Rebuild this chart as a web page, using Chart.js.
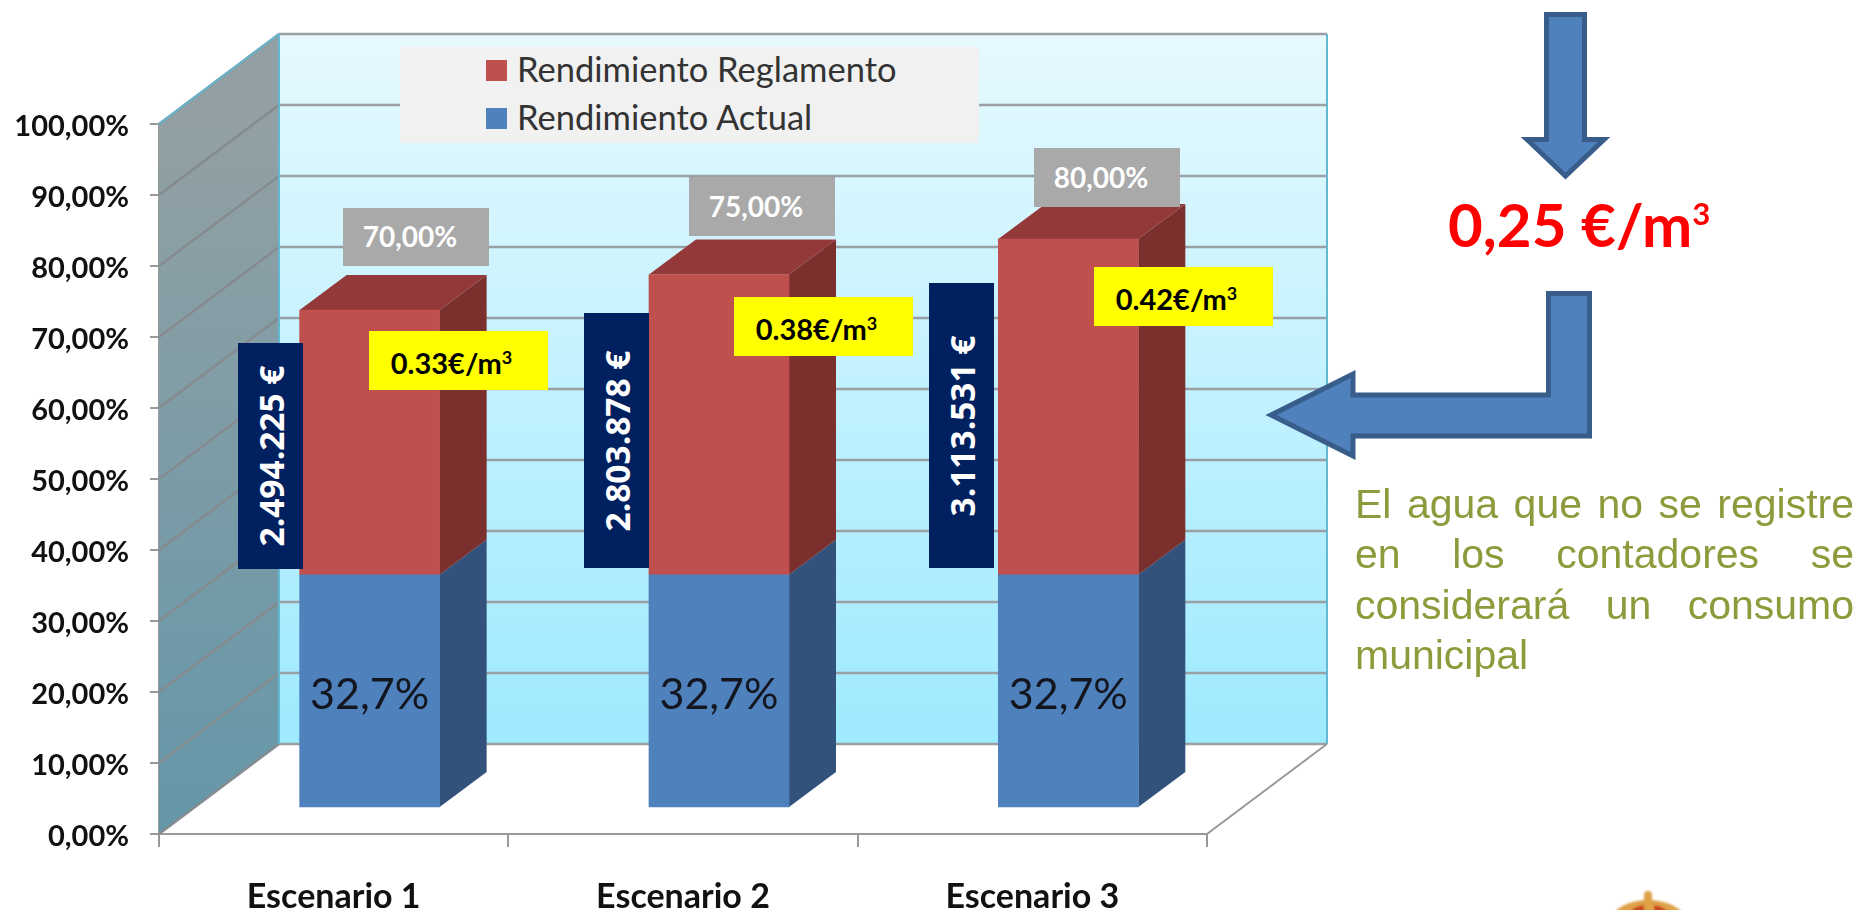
<!DOCTYPE html>
<html>
<head>
<meta charset="utf-8">
<title>Rendimiento</title>
<script src="https://cdn.jsdelivr.net/npm/chart.js@4"></script>
<style>
html, body { margin: 0; padding: 0; background: #fff; }
#wrap { position: relative; width: 1872px; height: 910px; overflow: hidden; }
#chart { position: absolute; left: 0; top: 0; }
.box { position: absolute; display: flex; align-items: center; justify-content: center; font-family: Lato, sans-serif; font-weight: 700; box-sizing: border-box; }
.box sup { font-size: 0.62em; line-height: 0; vertical-align: 0.55em; }
.gris { background: #a9a9a9; color: #fff; font-size: 28px; padding: 0 12px 2px 0; }
.amarillo { background: #ffff00; color: #000; font-size: 29px; padding: 4px 14px 0 0; }
.navy { background: #002060; color: #fff; font-family: "Open Sans", sans-serif; font-size: 33.5px; }
.navy span { transform: rotate(-90deg); white-space: nowrap; }
#legend { position: absolute; left: 400px; top: 47px; width: 579px; height: 96px; background: #f1f1f1; font-family: Lato, sans-serif; font-size: 34.5px; color: #333; }
#legend div { position: absolute; white-space: nowrap; line-height: 34px; }
#legend i { position: absolute; left: -31px; top: 8px; width: 21px; height: 21px; }
#precio { position: absolute; left: 1448px; top: 188px; font-family: Lato, sans-serif; font-weight: 700; font-size: 60px; color: #ff0000; white-space: nowrap; }
#precio sup { font-size: 0.52em; line-height: 0; vertical-align: 0.7em; }
#nota { position: absolute; left: 1355px; top: 479px; width: 499px; font-family: "Liberation Sans", sans-serif; font-size: 41px; line-height: 50.3px; color: #8e9a3b; text-align: justify; }
svg { position: absolute; left: 0; top: 0; }
</style>
</head>
<body>
<div id="wrap">
  <canvas id="chart" width="1872" height="910"></canvas>
  <div id="legend"></div>
  <div id="notas"></div>
  <svg width="1872" height="910">
    <defs><filter id="borroso"><feGaussianBlur stdDeviation="1.2"/></filter></defs>
    <polygon points="1546.5,14.5 1584.5,14.5 1584.5,139.5 1604,139.5 1565.5,176 1527,139.5 1546.5,139.5" fill="#4f81bd" stroke="#385d8a" stroke-width="5"/>
    <polygon points="1548.5,293.5 1589.5,293.5 1589.5,436 1353,436 1353,456 1271,415 1353,374 1353,395 1548.5,395" fill="#4f81bd" stroke="#385d8a" stroke-width="5"/>
    <g filter="url(#borroso)">
      <path d="M1613,914 Q1622,902 1644,900 L1644,893 Q1648,888 1652,893 L1652,900 Q1674,902 1684,914z" fill="#dfa24a"/>
      <path d="M1628,914 Q1634,906 1644,905 L1644,914z M1654,914 L1654,905 Q1664,906 1670,914z" fill="#c8441c"/>
    </g>
  </svg>
  <div id="precio">0,25 €/m<sup>3</sup></div>
  <div id="nota">El agua que no se registre en los contadores se considerará un consumo municipal</div>
</div>
<script>
var escenarios = ['Escenario 1', 'Escenario 2', 'Escenario 3'];
var rendimientoActual = [32.7, 32.7, 32.7];
var rendimientoReglamento = [37.3, 42.3, 47.3];
var etiquetasActual = ['32,7%', '32,7%', '32,7%'];
var etiquetasTotal = ['70,00%', '75,00%', '80,00%'];
var etiquetasPrecio = ['0.33€/m<sup>3</sup>', '0.38€/m<sup>3</sup>', '0.42€/m<sup>3</sup>'];
var etiquetasCoste = ['2.494.225 €', '2.803.878 €', '3.113.531 €'];

// cajas puestas a mano sobre el grafico: [x, y, ancho, alto]
var cajasTotal = [[343, 208, 146, 58], [689, 177, 146, 59], [1034, 148, 146, 59]];
var cajasPrecio = [[369, 331, 179, 59], [734, 297, 179, 59], [1094, 267, 179, 59]];
var cajasCoste = [[238, 343, 65, 226], [584, 313, 65, 255], [929, 283, 65, 285]];

var AZUL = '#4f81bd', ROJO = '#c0504d';
var FONDO_X = 120, FONDO_Y = -90;  // pared de fondo
var BARRA_DX = 47, BARRA_DY = -35; // profundidad de la barra

function poligono(ctx, puntos, color) {
    ctx.beginPath();
    puntos.forEach(function (p, i) {
        if (i === 0) ctx.moveTo(p[0], p[1]); else ctx.lineTo(p[0], p[1]);
    });
    ctx.closePath();
    ctx.fillStyle = color;
    ctx.fill();
}

var paredes = {
    id: 'paredes',
    beforeDatasetsDraw: function (chart) {
        var ctx = chart.ctx, x = chart.scales.x, y = chart.scales.y;
        var top = y.getPixelForValue(100), bot = y.getPixelForValue(0);
        var l = x.left, r = x.right;

        ctx.save();
        var gi = ctx.createLinearGradient(0, top, 0, bot);
        gi.addColorStop(0, '#92a0a4');
        gi.addColorStop(1, '#6497a9');
        poligono(ctx, [[l, bot], [l + FONDO_X, bot + FONDO_Y], [l + FONDO_X, top + FONDO_Y], [l, top]], gi);

        var gf = ctx.createLinearGradient(0, top + FONDO_Y, 0, bot + FONDO_Y);
        gf.addColorStop(0, '#e6f9fe');
        gf.addColorStop(1, '#9eeaff');
        poligono(ctx, [[l + FONDO_X, top + FONDO_Y], [r + FONDO_X, top + FONDO_Y], [r + FONDO_X, bot + FONDO_Y], [l + FONDO_X, bot + FONDO_Y]], gf);

        y.ticks.forEach(function (t) {
            var py = y.getPixelForValue(t.value);
            ctx.strokeStyle = '#858b8e';
            ctx.lineWidth = 2.5;
            ctx.beginPath();
            ctx.moveTo(l, py);
            ctx.lineTo(l + FONDO_X, py + FONDO_Y);
            ctx.stroke();
            ctx.strokeStyle = '#999fa2';
            ctx.beginPath();
            ctx.moveTo(l + FONDO_X, py + FONDO_Y);
            ctx.lineTo(r + FONDO_X, py + FONDO_Y);
            ctx.stroke();
        });

        // bordes azules de la pared y suelo
        ctx.lineWidth = 2;
        ctx.strokeStyle = '#63b8d2';
        ctx.beginPath();
        ctx.moveTo(l + FONDO_X, top + FONDO_Y);
        ctx.lineTo(l + FONDO_X, bot + FONDO_Y);
        ctx.moveTo(r + FONDO_X, top + FONDO_Y);
        ctx.lineTo(r + FONDO_X, bot + FONDO_Y);
        ctx.moveTo(l, top);
        ctx.lineTo(l + FONDO_X, top + FONDO_Y);
        ctx.stroke();
        ctx.strokeStyle = '#999999';
        ctx.beginPath();
        ctx.moveTo(r, bot);
        ctx.lineTo(r + FONDO_X, bot + FONDO_Y);
        ctx.stroke();

        // caras laterales y superior de las barras
        var metaAzul = chart.getDatasetMeta(1), metaRoja = chart.getDatasetMeta(0);
        escenarios.forEach(function (e, i) {
            var a = metaAzul.data[i], b = metaRoja.data[i];
            var der = a.x + a.width / 2, izq = a.x - a.width / 2;
            poligono(ctx, [[der, a.base], [der + BARRA_DX, a.base + BARRA_DY], [der + BARRA_DX, a.y + BARRA_DY], [der, a.y]], '#32527c');
            poligono(ctx, [[der, a.y], [der + BARRA_DX, a.y + BARRA_DY], [der + BARRA_DX, b.y + BARRA_DY], [der, b.y]], '#7b302e');
            poligono(ctx, [[izq, b.y], [izq + BARRA_DX, b.y + BARRA_DY], [der + BARRA_DX, b.y + BARRA_DY], [der, b.y]], '#94393a');
        });
        ctx.restore();
    },
    afterDatasetsDraw: function (chart) {
        var ctx = chart.ctx, meta = chart.getDatasetMeta(1);
        ctx.save();
        ctx.fillStyle = '#14161f';
        ctx.font = '400 43px Lato, sans-serif';
        ctx.textAlign = 'center';
        ctx.textBaseline = 'middle';
        etiquetasActual.forEach(function (txt, i) {
            var el = meta.data[i];
            ctx.fillText(txt, el.x, (el.y + el.base) / 2 + 4);
        });
        ctx.restore();
    }
};

new Chart(document.getElementById('chart').getContext('2d'), {
    type: 'bar',
    data: {
        labels: escenarios,
        datasets: [
            { label: 'Rendimiento Reglamento', backgroundColor: ROJO, data: rendimientoReglamento.map(function (v, i) { return { x: i + 1, y: v }; }), xAxisID: 'xBarras', yAxisID: 'yBarras', stack: 's', order: 2 },
            { label: 'Rendimiento Actual', backgroundColor: AZUL, data: rendimientoActual.map(function (v, i) { return { x: i + 1, y: v }; }), xAxisID: 'xBarras', yAxisID: 'yBarras', stack: 's', order: 1 }
        ]
    },
    options: {
        responsive: false,
        animation: false,
        events: [],
        barThickness: 140,
        layout: { padding: { top: 124, right: 665, left: 0, bottom: 0 } },
        plugins: { legend: { display: false }, tooltip: { enabled: false } },
        scales: {
            x: {
                type: 'category',
                grid: { offset: true, drawOnChartArea: false, color: '#999999', lineWidth: 2, tickLength: 13 },
                border: { color: '#999999', width: 2 },
                ticks: { color: '#111', padding: 30, maxRotation: 0, font: { family: 'Lato', weight: '700', size: 34 } },
                afterFit: function (s) { s.height = 76; }
            },
            y: {
                min: 0,
                max: 100,
                grid: { drawOnChartArea: false, color: '#999999', lineWidth: 2, tickLength: 9 },
                border: { color: '#999999', width: 2 },
                ticks: {
                    stepSize: 10,
                    padding: 21,
                    labelOffset: 3,
                    color: '#111',
                    font: { family: 'Lato', weight: '700', size: 29 },
                    callback: function (v) { return v.toFixed(2).replace('.', ',') + '%'; }
                },
                afterFit: function (s) { s.width = 159; }
            },
            // plano de las barras: algo mas adentro que los ejes
            xBarras: { type: 'linear', display: false, offset: false, stacked: true, min: 0.397, max: 3.397, grid: { offset: false } },
            yBarras: { type: 'linear', display: false, stacked: true, min: -3.8, max: 96.2 }
        }
    },
    plugins: [paredes]
});

// leyenda y cajas encima del canvas
var leyenda = document.getElementById('legend');
[['Rendimiento Reglamento', ROJO, 5], ['Rendimiento Actual', AZUL, 53]].forEach(function (f) {
    var d = document.createElement('div');
    d.style.left = '117px';
    d.style.top = f[2] + 'px';
    d.innerHTML = '<i style="background:' + f[1] + '"></i>' + f[0];
    leyenda.appendChild(d);
});

function cajas(lista, textos, clase) {
    var c = document.getElementById('notas');
    lista.forEach(function (b, i) {
        var d = document.createElement('div');
        d.className = 'box ' + clase;
        d.style.cssText = 'left:' + b[0] + 'px;top:' + b[1] + 'px;width:' + b[2] + 'px;height:' + b[3] + 'px';
        d.innerHTML = '<span>' + textos[i] + '</span>';
        c.appendChild(d);
    });
}
cajas(cajasTotal, etiquetasTotal, 'gris');
cajas(cajasCoste, etiquetasCoste, 'navy');
cajas(cajasPrecio, etiquetasPrecio, 'amarillo');
</script>
</body>
</html>
